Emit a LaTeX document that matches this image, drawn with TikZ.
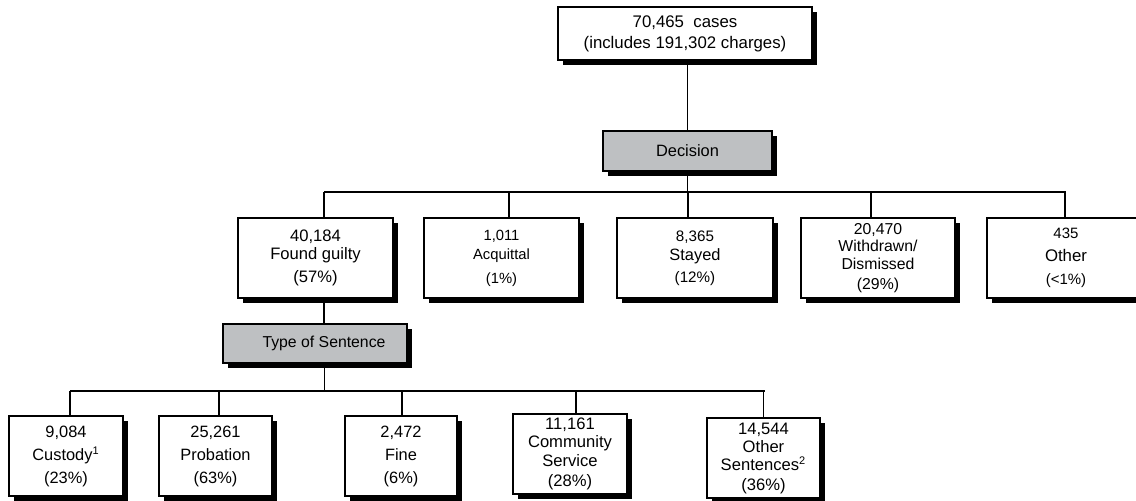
\documentclass[tikz,border=0pt]{standalone}
\usepackage{fontspec}
\setmainfont{Liberation Sans}
\usetikzlibrary{shadows}
\definecolor{boxgray}{RGB}{190,192,194}
\begin{document}
\begin{tikzpicture}[x=0.5pt,y=-0.5pt,
  box/.style={draw=black, line width=0.6pt, fill=white, inner sep=0pt, align=center,
    drop shadow={shadow xshift=2.6pt, shadow yshift=-2.6pt, opacity=1, fill=black}},
  graybox/.style={box, fill=boxgray},
  conn/.style={line width=0.55pt}]
\useasboundingbox (0,0) rectangle (1136,500);
\clip (0,0) rectangle (1136,500);

% top level
\node[box, minimum width=127pt, minimum height=26.5pt, font=\fontsize{8.4}{10.5}\selectfont]
  (top) at (685,33.5) {70,465~~cases\\(includes 191,302 charges)};
\node[graybox, minimum width=84.5pt, minimum height=20pt, font=\fontsize{8.2}{10}\selectfont]
  (dec) at (687.5,151) {Decision};

% decision outcomes
\node[box, minimum width=77.5pt, minimum height=40pt, font=\fontsize{8.3}{9.2}\selectfont]
  (guilty) at (315.5,258) {40,184\\Found guilty\\[2.2pt](57\%)};
\node[box, minimum width=77.5pt, minimum height=40pt, font=\fontsize{7.4}{9.5}\selectfont]
  (acq) at (501.5,258) {1,011\\Acquittal\\[2.5pt](1\%)};
\node[box, minimum width=78pt, minimum height=40pt, font=\fontsize{7.6}{9.5}\selectfont]
  (stayed) at (695,258) {8,365\\{\fontsize{8.2}{9.5}\selectfont Stayed}\\[1.5pt](12\%)};
\node[box, minimum width=77pt, minimum height=40pt, font=\fontsize{7.9}{8.6}\selectfont]
  (wd) at (878,258) {20,470\\Withdrawn/\\Dismissed\\[1.4pt](29\%)};
\node[box, minimum width=79pt, minimum height=40pt, font=\fontsize{7.5}{11.5}\selectfont]
  (oth) at (1066,258) {435\\{\fontsize{8.4}{11.5}\selectfont Other}\\(<1\%)};

% sentence type
\node[graybox, minimum width=92pt, minimum height=19.5pt, font=\fontsize{7.9}{10}\selectfont]
  (type) at (315,343.5) {\hspace*{9pt}Type of Sentence};

\node[box, minimum width=57pt, minimum height=40pt, font=\fontsize{8.2}{11.5}\selectfont]
  (cust) at (66,456) {9,084\\Custody\textsuperscript{\fontsize{5.5}{6}\selectfont 1}\\(23\%)};
\node[box, minimum width=56.5pt, minimum height=40pt, font=\fontsize{8.2}{11.5}\selectfont]
  (prob) at (215.5,456) {25,261\\Probation\\(63\%)};
\node[box, minimum width=56pt, minimum height=40pt, font=\fontsize{8.2}{11.5}\selectfont]
  (fine) at (401,456) {2,472\\Fine\\(6\%)};
\node[box, minimum width=57pt, minimum height=40pt, font=\fontsize{8.3}{9.2}\selectfont]
  (comm) at (570,454) {11,161\\Community\\Service\\[1pt](28\%)};
\node[box, minimum width=56.5pt, minimum height=40pt, font=\fontsize{8.3}{9}\selectfont]
  (osent) at (763.5,458) {14,544\\Other\\Sentences\textsuperscript{\fontsize{5.5}{6}\selectfont 2}\\[1pt](36\%)};

% connectors, first level
\coordinate (busA) at (324,192);
\coordinate (busB) at (1066,192);
\draw[conn] (dec.north) -- (dec.north |- top.south);
\draw[conn] (dec.south) -- (dec.south |- busA);
\draw[conn] (busA) -- (busB);
\draw[conn] ([xshift=4.25pt]guilty.north) -- ([xshift=4.25pt]guilty.north |- busA);
\draw[conn] ([xshift=3.75pt]acq.north) -- ([xshift=3.75pt]acq.north |- busA);
\draw[conn] ([xshift=-3.5pt]stayed.north) -- ([xshift=-3.5pt]stayed.north |- busA);
\draw[conn] ([xshift=-3.5pt]wd.north) -- ([xshift=-3.5pt]wd.north |- busA);
\draw[conn] ([xshift=-0.5pt]oth.north) -- ([xshift=-0.5pt]oth.north |- busA);

% connectors, second level
\draw[conn] ([xshift=4.25pt]guilty.south) -- ([xshift=4.25pt]guilty.south |- type.north);
\coordinate (busC) at (70,391);
\coordinate (busD) at (765,391);
\draw[conn] ([xshift=4.75pt]type.south) -- ([xshift=4.75pt]type.south |- busC);
\draw[conn] (busC) -- (busD);
\draw[conn] ([xshift=2pt]cust.north) -- ([xshift=2pt]cust.north |- busC);
\draw[conn] ([xshift=1.75pt]prob.north) -- ([xshift=1.75pt]prob.north |- busC);
\draw[conn] ([xshift=0.5pt]fine.north) -- ([xshift=0.5pt]fine.north |- busC);
\draw[conn] ([xshift=3pt]comm.north) -- ([xshift=3pt]comm.north |- busC);
\draw[conn] ([xshift=0pt]osent.north) -- ([xshift=0pt]osent.north |- busC);
\end{tikzpicture}
\end{document}
